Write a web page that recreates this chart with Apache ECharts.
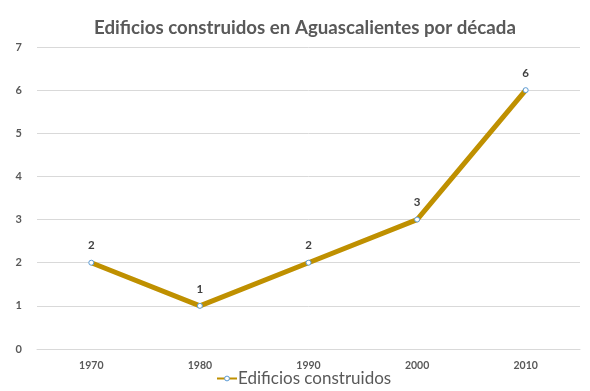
<!DOCTYPE html>
<html><head><meta charset="utf-8">
<script src="https://cdn.jsdelivr.net/npm/echarts@6/dist/echarts.min.js"></script>
<style>html,body{margin:0;padding:0;background:#fff}#c{width:590px;height:391px}</style>
</head><body><div id="c"></div>
<script>
const titleText = "Edificios construidos en Aguascalientes por década";
const categories = ["1970", "1980", "1990", "2000", "2010"];
const seriesName = "Edificios construidos";
const values = [2, 1, 2, 3, 6];
const yTicks = [0, 1, 2, 3, 4, 5, 6, 7];

const chart = echarts.init(document.getElementById('c'), null, {renderer: 'canvas'});
chart.setOption({
  animation: false,
  backgroundColor: '#ffffff',
  textStyle: {fontFamily: 'Lato'},
  title: {
    text: titleText, left: 89, top: 13,
    textStyle: {fontFamily: 'Lato', fontSize: 18.7, fontWeight: 'bold', color: '#595959'}
  },
  grid: {left: 37, right: 10, top: 47, bottom: 42, containLabel: false},
  xAxis: {
    type: 'category', data: categories, boundaryGap: true,
    axisLine: {show: true, lineStyle: {color: '#d9d9d9'}},
    axisTick: {show: false},
    axisLabel: {color: '#595959', fontSize: 10.5, fontWeight: 'bold', margin: 11}
  },
  yAxis: {
    type: 'value', min: yTicks[0], max: yTicks[yTicks.length - 1], interval: 1,
    axisLine: {show: false}, axisTick: {show: false},
    axisLabel: {color: '#595959', fontSize: 11, fontWeight: 'bold', margin: 15},
    splitLine: {lineStyle: {color: '#d9d9d9', width: 1}}
  },
  legend: {
    bottom: -1, left: 211, itemWidth: 20, itemHeight: 6, itemGap: 10,
    textStyle: {color: '#595959', fontSize: 17, fontFamily: 'Lato', padding: [0, 0, 0, -4]},
    itemStyle: {color: '#ffffff', borderColor: '#5B9BD5', borderWidth: 1},
    data: [seriesName]
  },
  series: [{
    name: seriesName, type: 'line', data: values,
    symbol: 'circle', symbolSize: 5,
    lineStyle: {color: '#BF9000', width: 5},
    itemStyle: {color: '#ffffff', borderColor: '#5B9BD5', borderWidth: 1},
    label: {show: true, position: 'top', distance: 8, color: '#404040', fontSize: 11.5, fontWeight: 'bold'}
  }]
});
</script></body></html>
